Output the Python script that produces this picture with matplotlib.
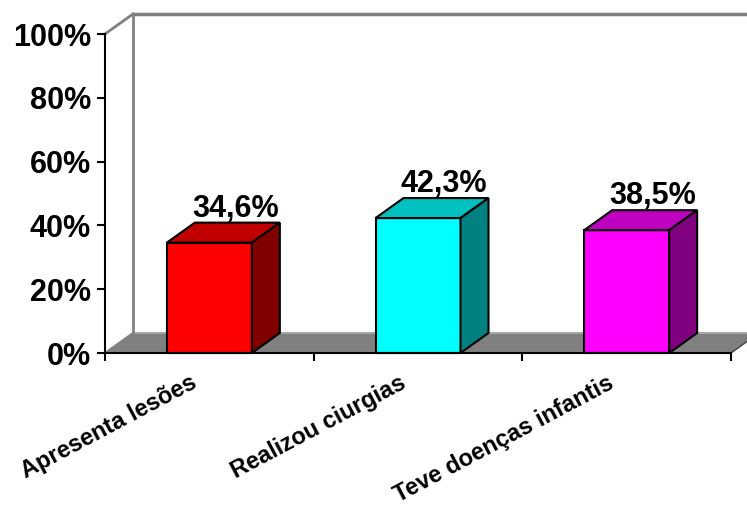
import numpy as np
import matplotlib.pyplot as plt
from matplotlib.patches import Polygon, Rectangle

plt.rcParams['font.family'] = ['Liberation Sans', 'DejaVu Sans']
plt.rcParams['font.weight'] = 'bold'

categories = ['Apresenta lesões', 'Realizou ciurgias', 'Teve doenças infantis']
values = [34.6, 42.3, 38.5]
front_colors = ['#FF0000', '#00FFFF', '#FF00FF']
top_colors = ['#C00000', '#00C0C0', '#C000C0']
side_colors = ['#800000', '#008080', '#800080']
yticks = [0, 20, 40, 60, 80, 100]
ytick_labels = ['0%', '20%', '40%', '60%', '80%', '100%']

W, H = 747, 511
fig = plt.figure(figsize=(W / 100, H / 100), dpi=100)
# axes box = front plane of the 3d chart (pixels measured from top-left)
x0, x1, y0, y1 = 105, 731, 353, 34
ax = fig.add_axes([x0 / W, (H - y0) / H, (x1 - x0) / W, (y0 - y1) / H])
ax.set_xlim(0, 3)
ax.set_ylim(0, 100)

# depth offset of the 3d box, in data units
px_x = 3 / (x1 - x0)
px_y = 100 / (y0 - y1)
dx = 28 * px_x
dy = 20 * px_y

wall = '#808080'
# floor
ax.add_patch(Polygon([(0, 0), (3, 0), (3 + dx, dy), (dx, dy)], closed=True,
                     facecolor='#808080', edgecolor='none', zorder=1, clip_on=False))
ax.plot([dx, 3 + dx], [dy, dy], color='#A6A6A6', lw=1.5, zorder=1.5, clip_on=False)
ax.plot([3, 3 + dx], [0, dy], color='#404040', lw=1, zorder=1.5, clip_on=False)
# back and side wall edges
ax.plot([0, dx], [0, dy], color=wall, lw=1.5, zorder=1.5, clip_on=False)
ax.plot([dx, dx], [dy, 100 + dy], color=wall, lw=2, zorder=1.5, clip_on=False)
ax.plot([0, dx], [100, 100 + dy], color=wall, lw=2, zorder=1.5, clip_on=False)
ax.plot([dx, 3 + dx], [100 + dy, 100 + dy], color=wall, lw=2.5, zorder=1.5, clip_on=False)

bw = 85 * px_x
for i, v in enumerate(values):
    c = i + 0.5
    l, r = c - bw / 2, c + bw / 2
    ax.add_patch(Rectangle((l, 0), bw, v, facecolor=front_colors[i],
                           edgecolor='black', lw=1.5, zorder=3, clip_on=False))
    ax.add_patch(Polygon([(l, v), (r, v), (r + dx, v + dy), (l + dx, v + dy)],
                         closed=True, facecolor=top_colors[i], edgecolor='black',
                         lw=1.5, zorder=3, clip_on=False))
    ax.add_patch(Polygon([(r, 0), (r + dx, dy), (r + dx, v + dy), (r, v)],
                         closed=True, facecolor=side_colors[i], edgecolor='black',
                         lw=1.5, zorder=3, clip_on=False))
    lbl = ('%.1f%%' % v).replace('.', ',')
    ax.text(c + 26 * px_x, v + dy + 6 * px_y, lbl, ha='center', va='baseline',
            fontsize=22, fontweight='bold', zorder=5, clip_on=False)
    ax.text(c - 11 * px_x, -34 * px_y, categories[i], ha='right', va='baseline',
            rotation=28, rotation_mode='anchor', fontsize=17, fontweight='bold')

for s in ['top', 'right']:
    ax.spines[s].set_visible(False)
ax.spines['left'].set_linewidth(1.5)
ax.spines['bottom'].set_linewidth(1.5)
ax.spines['left'].set_zorder(4)
ax.spines['bottom'].set_zorder(4)
ax.set_xticks([0, 1, 2, 3])
ax.set_xticklabels([])
ax.set_yticks(yticks)
ax.set_yticklabels(ytick_labels, fontsize=22, fontweight='bold')
ax.tick_params(axis='both', direction='out', length=6, width=1.5, color='black')
ax.tick_params(axis='y', pad=4)
ax.patch.set_visible(False)

fig.savefig('out.png', dpi=100)
